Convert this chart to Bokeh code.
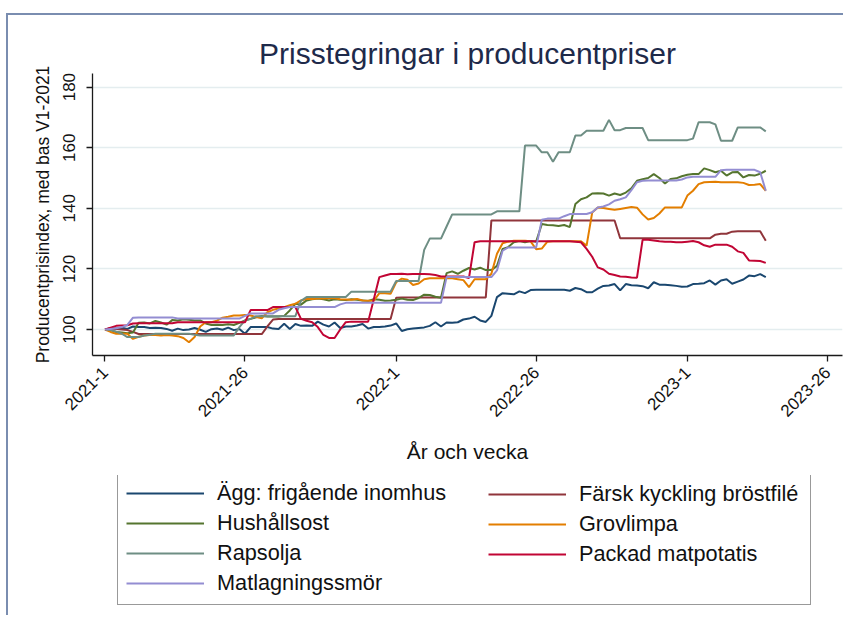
import math
from bokeh.plotting import figure
from bokeh.layouts import column
from bokeh.models import Range1d, FixedTicker, Legend, LegendItem
from bokeh.embed import file_html
from bokeh.resources import INLINE

# ---- data (weekly index, 2021-1 .. 2023-15) ----
tick_weeks = [1, 26, 53, 78, 105, 130]
tick_labels = ["2021-1", "2021-26", "2022-1", "2022-26", "2023-1", "2023-26"]
y_ticks = [100, 120, 140, 160, 180]

agg = [100.0, 100.4, 100.3, 100.6, 100.2, 101.0, 100.8, 100.8, 100.5, 100.6,
       100.5, 100.2, 99.6, 100.3, 99.8, 100.0, 100.5, 99.9, 99.2, 100.1,
       100.3, 99.9, 100.6, 99.8, 100.2, 98.6, 100.8, 100.8, 100.8, 100.8,
       100.3, 100.2, 101.9, 100.2, 101.8, 101.2, 101.3, 101.2, 102.6, 101.6,
       101.0, 102.3, 100.5, 101.0, 101.0, 101.3, 101.8, 100.3, 100.8, 100.8,
       101.0, 101.3, 102.0, 99.5, 100.1, 100.3, 100.5, 100.7, 101.2, 102.4,
       101.0, 102.3, 102.2, 102.4, 103.3, 103.6, 104.2, 103.0, 102.5, 104.5,
       110.7, 112.0, 111.8, 111.6, 112.6, 112.0, 113.0, 113.1, 113.1, 113.1,
       113.1, 113.1, 113.1, 112.8, 113.7, 113.3, 112.3, 112.3, 113.5, 114.4,
       114.5, 115.0, 112.9, 115.0, 114.6, 114.5, 114.3, 113.6, 115.6, 114.8,
       114.8, 114.6, 114.4, 114.1, 114.2, 115.0, 115.1, 115.3, 116.2, 114.8,
       116.2, 116.6, 115.1, 115.8, 116.5, 117.8, 117.6, 118.3, 117.3]

kyckling = [100.0, 100.3, 100.2, 100.0, 99.8, 99.2, 98.5, 98.5, 98.5, 98.5,
            98.5, 98.5, 98.5, 98.5, 98.5, 98.5, 98.5, 98.5, 98.5, 98.5,
            98.5, 98.5, 98.5, 98.5, 98.5, 98.5, 98.5, 98.5, 98.5, 101.0,
            103.3, 103.5, 103.5, 103.5, 103.5, 103.5, 103.5, 103.5, 103.5, 103.5,
            103.5, 103.5, 103.5, 103.5, 103.5, 103.5, 103.5, 103.5, 103.5, 103.5,
            103.5, 103.5, 110.5, 110.6, 110.6, 110.6, 110.6, 110.6, 110.6, 110.6,
            110.6, 110.6, 110.6, 110.6, 110.6, 110.6, 110.6, 110.6, 110.6, 136.0,
            136.0, 136.0, 136.0, 136.0, 136.0, 136.0, 136.0, 136.0, 136.0, 136.0,
            136.0, 136.0, 136.0, 136.0, 136.0, 136.0, 136.0, 136.0, 136.0, 136.0,
            136.0, 136.0, 130.1, 130.1, 130.1, 130.1, 130.1, 130.1, 130.1, 130.1,
            130.1, 130.1, 130.1, 130.1, 130.1, 130.1, 130.1, 130.1, 130.1, 131.3,
            131.6, 131.6, 132.3, 132.4, 132.4, 132.4, 132.4, 132.4, 129.3]

hushallsost = [100.0, 99.8, 99.2, 99.0, 98.8, 99.0, 102.2, 102.3, 102.0, 102.8,
               102.3, 101.6, 103.1, 103.0, 103.4, 103.2, 103.0, 103.0, 102.0, 101.5,
               101.6, 101.5, 101.7, 101.5, 102.2, 103.0, 103.5, 104.0, 104.5, 104.3,
               104.3, 104.3, 104.5, 106.3, 108.5, 108.2, 109.6, 110.0, 110.2, 110.0,
               109.6, 110.0, 109.8, 109.7, 110.0, 109.8, 109.6, 109.4, 110.0, 109.8,
               109.5, 109.6, 109.8, 110.2, 109.8, 109.7, 110.4, 111.5, 111.4, 110.8,
               110.5, 118.6, 119.2, 118.4, 119.4, 120.3, 119.8, 120.4, 119.6, 119.6,
               121.0, 126.6, 127.2, 128.8, 129.2, 128.8, 129.2, 129.0, 134.8, 134.5,
               134.4, 134.2, 134.5, 133.8, 141.4, 143.0, 143.6, 144.9, 145.0, 144.9,
               144.2, 144.9, 144.4, 145.2, 146.6, 149.1, 149.6, 150.0, 151.3, 150.0,
               148.2, 149.7, 149.9, 150.6, 151.1, 151.3, 151.3, 153.2, 152.6, 151.9,
               152.4, 150.8, 151.9, 152.0, 150.2, 151.0, 150.8, 151.4, 152.4]

grovlimpa = [100.0, 99.2, 98.6, 98.6, 98.6, 96.9, 97.6, 98.0, 98.2, 98.2,
             98.0, 98.2, 98.0, 97.8, 97.2, 95.8, 97.5, 101.0, 102.4, 102.4,
             102.9, 103.9, 104.2, 104.6, 104.6, 104.8, 104.6, 104.1, 103.7, 105.7,
             106.5, 106.9, 107.4, 108.0, 108.5, 109.6, 110.1, 110.1, 110.2, 110.2,
             110.3, 110.3, 110.0, 109.9, 109.8, 110.1, 109.6, 109.5, 109.5, 112.0,
             112.0, 111.8, 115.6, 116.8, 116.4, 114.7, 115.2, 116.6, 116.9, 116.9,
             116.9, 116.9, 116.9, 116.6, 116.3, 114.0, 116.6, 116.6, 116.6, 118.4,
             125.0, 128.5, 129.0, 129.3, 129.3, 129.3, 129.1, 126.5, 126.7, 129.0,
             129.1, 129.1, 129.1, 129.1, 129.1, 129.1, 127.7, 138.6, 140.3, 140.1,
             139.8, 139.5, 139.8, 140.1, 140.4, 140.2, 138.0, 136.3, 136.8, 138.3,
             140.3, 140.3, 140.3, 140.3, 144.2, 145.8, 148.0, 148.6, 148.7, 148.8,
             148.6, 148.6, 148.6, 148.6, 148.4, 147.7, 147.8, 148.0, 145.8]

rapsolja = [100.0, 99.8, 99.3, 98.6, 97.5, 97.5, 97.5, 98.0, 98.3, 98.6,
            98.6, 98.6, 98.6, 98.6, 98.6, 98.6, 98.3, 98.0, 98.0, 98.0,
            98.0, 98.0, 98.0, 98.0, 100.8, 103.0, 103.5, 104.4, 104.4, 104.4,
            104.4, 104.4, 104.4, 104.4, 104.4, 109.5, 110.7, 110.7, 110.7, 110.7,
            110.7, 110.7, 110.7, 110.7, 112.5, 112.5, 112.5, 112.5, 112.5, 112.5,
            112.5, 112.5, 116.0, 116.0, 116.0, 116.0, 116.0, 126.3, 130.0, 130.0,
            130.0, 134.0, 138.0, 138.0, 138.0, 138.0, 138.0, 138.0, 138.0, 138.0,
            139.0, 139.0, 139.0, 139.0, 139.0, 160.7, 160.7, 160.7, 158.5, 158.5,
            155.4, 158.5, 158.5, 158.5, 164.0, 164.0, 165.6, 165.6, 165.6, 165.6,
            169.2, 165.8, 165.8, 166.5, 166.5, 166.5, 166.5, 162.5, 162.5, 162.5,
            162.5, 162.5, 162.5, 162.5, 162.5, 163.0, 168.4, 168.4, 168.4, 167.7,
            162.3, 162.3, 162.3, 166.7, 166.7, 166.7, 166.7, 166.7, 165.4]

matpotatis = [100.0, 100.6, 101.2, 101.3, 101.4, 102.0, 102.1, 102.1, 102.1, 102.1,
              102.1, 102.1, 102.1, 102.4, 102.4, 102.4, 102.4, 102.4, 102.4, 102.4,
              102.4, 102.4, 102.4, 102.4, 102.4, 102.4, 106.4, 106.4, 106.4, 106.4,
              107.4, 107.4, 107.4, 107.4, 107.4, 103.5, 102.9, 102.4, 100.8, 98.2,
              97.2, 97.2, 100.0, 102.4, 102.6, 102.6, 102.6, 102.6, 110.0, 117.3,
              117.8, 118.3, 118.3, 118.4, 118.2, 118.3, 118.3, 118.3, 118.2, 118.0,
              117.5, 117.5, 117.5, 117.5, 117.5, 117.0, 128.8, 129.1, 129.1, 129.1,
              129.1, 129.1, 129.1, 129.1, 129.1, 129.1, 129.1, 129.1, 129.1, 129.1,
              129.1, 129.1, 129.1, 129.1, 129.0, 128.8, 126.6, 124.0, 120.5, 119.8,
              118.4, 118.0, 117.5, 117.4, 117.2, 117.1, 129.6, 129.6, 129.4, 129.1,
              129.0, 129.0, 128.8, 128.8, 129.0, 129.2, 128.8, 127.8, 127.3, 128.0,
              128.0, 128.0, 127.3, 125.8, 125.3, 122.8, 122.7, 122.6, 122.0]

smor = [100.0, 100.2, 100.4, 100.8, 101.5, 103.9, 104.0, 104.0, 104.0, 104.0,
        104.0, 104.0, 104.0, 103.6, 103.6, 103.6, 103.6, 103.6, 103.6, 103.6,
        103.6, 103.6, 103.6, 103.6, 103.6, 104.5, 105.3, 105.3, 105.3, 105.3,
        105.3, 106.5, 107.0, 107.4, 107.4, 107.4, 107.4, 107.4, 107.4, 107.4,
        107.4, 107.4, 108.3, 108.8, 108.8, 108.8, 108.8, 108.8, 108.8, 108.8,
        108.8, 108.8, 108.8, 108.8, 108.8, 108.8, 108.8, 108.8, 108.8, 108.8,
        108.8, 117.3, 117.3, 117.3, 117.3, 117.3, 117.3, 117.3, 117.3, 117.3,
        119.5, 126.0, 127.1, 127.1, 127.1, 127.1, 127.1, 127.1, 136.2, 136.6,
        136.6, 136.6, 137.4, 138.1, 138.1, 138.1, 138.1, 138.7, 140.3, 140.6,
        141.3, 142.5, 143.0, 143.6, 146.0, 148.6, 149.1, 149.2, 149.2, 149.2,
        149.2, 149.2, 149.2, 149.5, 150.2, 150.4, 150.4, 150.4, 150.4, 150.4,
        152.6, 152.7, 152.7, 152.7, 152.7, 152.7, 152.7, 151.9, 145.8]

series_names = ["Ägg: frigående inomhus", "Färsk kyckling bröstfilé", "Hushållsost",
                "Grovlimpa", "Rapsolja", "Packad matpotatis", "Matlagningssmör"]
series_values = [agg, kyckling, hushallsost, grovlimpa, rapsolja, matpotatis, smor]
series_colors = ["#1a476f", "#90353b", "#55752f", "#e37e00", "#6e8e84", "#c10534", "#938dd2"]

weeks = list(range(1, len(agg) + 1))

FONT = "Liberation Sans"

# ---------------- main chart ----------------
p = figure(width=835, height=460, output_backend="svg", toolbar_location=None,
           x_range=Range1d(-1.23, 132.7), y_range=Range1d(91.42, 184.5),
           min_border_left=84, min_border_right=1, min_border_top=58, min_border_bottom=120)
p.outline_line_color = None
p.background_fill_color = "white"
p.border_fill_color = "white"

p.title.text = "Prisstegringar i producentpriser"
p.title.align = "center"
p.title.text_font = FONT
p.title.text_font_size = "30px"
p.title.text_font_style = "normal"
p.title.text_color = "#1e2a4a"
p.title.standoff = 7

p.xgrid.visible = False
p.ygrid.grid_line_color = "#e4edef"
p.ygrid.grid_line_width = 1.5

for ax in (p.xaxis[0], p.yaxis[0]):
    ax.axis_line_color = "#1a1a1a"
    ax.axis_line_width = 1.3
    ax.major_tick_line_color = "#1a1a1a"
    ax.major_tick_line_width = 1.3
    ax.major_tick_in = 0
    ax.major_tick_out = 6
    ax.minor_tick_line_color = None
    ax.major_label_text_font = FONT
    ax.major_label_text_font_size = "17px"
    ax.major_label_text_color = "#111111"
    ax.axis_label_text_font = FONT
    ax.axis_label_text_font_style = "normal"
    ax.axis_label_text_color = "#111111"

p.yaxis.ticker = FixedTicker(ticks=y_ticks)
p.yaxis.major_label_orientation = "vertical"
p.yaxis.major_label_standoff = 11
p.yaxis.axis_label = "Producentprisindex, med bas V1-2021"
p.yaxis.axis_label_text_font_size = "17.5px"
p.yaxis.axis_label_standoff = 8

p.xaxis.ticker = FixedTicker(ticks=tick_weeks)
p.xaxis.major_label_overrides = {t: l for t, l in zip(tick_weeks, tick_labels)}
p.xaxis.major_label_orientation = math.pi / 4
p.xaxis.major_label_standoff = 8
p.xaxis.axis_label = "År och vecka"
p.xaxis.axis_label_text_font_size = "21px"
p.xaxis.axis_label_standoff = 15

for name, vals, col in zip(series_names, series_values, series_colors):
    p.line(weeks, vals, line_color=col, line_width=2)

# ---------------- legend panel ----------------
q = figure(width=835, height=140, output_backend="svg", toolbar_location=None,
           title=None, x_axis_location=None, y_axis_location=None,
           x_range=Range1d(0, 1), y_range=Range1d(0, 1), min_border=0)
q.outline_line_color = None
q.grid.visible = False
q.background_fill_color = "white"
q.border_fill_color = "white"

leg_renderers = {}
for name, vals, col in zip(series_names, series_values, series_colors):
    leg_renderers[name] = q.line(weeks, vals, line_color=col, line_width=2)

common = dict(orientation="vertical", glyph_width=78, glyph_height=24, label_height=24,
              label_standoff=13, spacing=4, padding=8, margin=0,
              label_text_font=FONT, label_text_font_size="21.7px", label_text_color="#111111")

left_names = ["Ägg: frigående inomhus", "Hushållsost", "Rapsolja", "Matlagningssmör"]
right_names = ["Färsk kyckling bröstfilé", "Grovlimpa", "Packad matpotatis"]

legA = Legend(items=[LegendItem(label=n, renderers=[leg_renderers[n]]) for n in left_names],
              location=(25, 10), label_width=585,
              border_line_color="#333333", border_line_width=1.5,
              background_fill_color="white", background_fill_alpha=1.0, **common)
legB = Legend(items=[LegendItem(label=n, renderers=[leg_renderers[n]]) for n in right_names],
              location=(396, 48), border_line_color=None,
              background_fill_alpha=0.0, **common)
q.add_layout(legA)
q.add_layout(legB)

layout = column(p, q, spacing=0)
layout.styles = {"margin-left": "6px", "margin-top": "13px",
                 "border-left": "2px solid #7a8db0", "border-top": "2px solid #7a8db0"}

open("out.html", "w").write(file_html(layout, INLINE))
